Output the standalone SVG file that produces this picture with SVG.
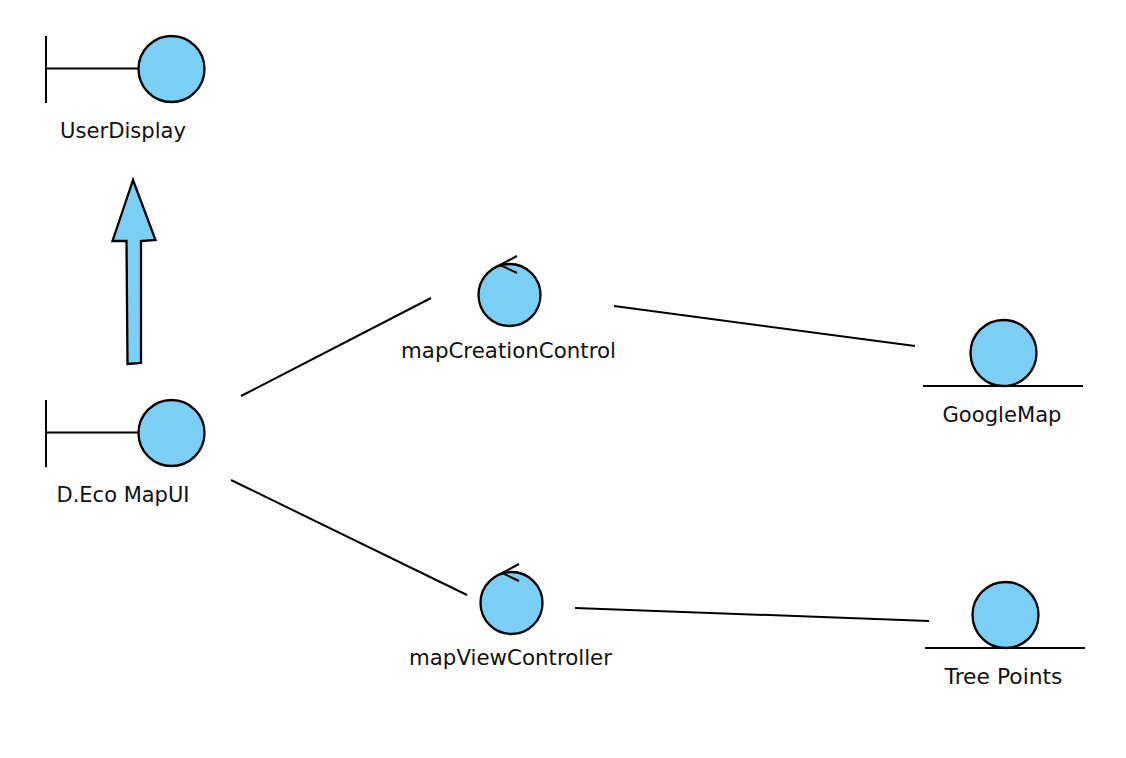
<svg xmlns="http://www.w3.org/2000/svg" width="1126" height="758" viewBox="0 0 1126 758">
<style>
.o{fill:#7bcff5;stroke:#000;stroke-width:2.300}
.l{fill:none;stroke:#000;stroke-width:2}
text{font-family:"DejaVu Sans","Noto Sans",sans-serif;font-size:21.500px;fill:#111;text-anchor:middle}
</style>
<rect width="1126" height="758" fill="#fff"/>
<g id="connectors">
<path class="l" d="M241 396L431 298"/>
<path class="l" d="M231 480L467 595"/>
<path class="l" d="M614 306L915 346"/>
<path class="l" d="M575 608L929 621"/>
<path class="o" d="M133 180L112.500 241L126.500 241L127.500 364L141 363L141 241L155.500 240Z"/>
</g>
<g id="UserDisplay">
<path class="l" d="M46 36V103M46 68.500H138"/>
<circle class="o" cx="171.500" cy="69" r="33"/>
<text x="123" y="138" textLength="126" lengthAdjust="spacingAndGlyphs">UserDisplay</text>
</g>
<g id="DEcoMapUI">
<path class="l" d="M46 400V467M46 432.500H138"/>
<circle class="o" cx="171.500" cy="433" r="33"/>
<text x="123" y="502" textLength="133" lengthAdjust="spacingAndGlyphs">D.Eco MapUI</text>
</g>
<g id="mapCreationControl">
<circle class="o" cx="509.500" cy="295" r="31"/>
<path class="l" d="M517 256L500 265L517 273"/>
<text x="508.500" y="358" textLength="215" lengthAdjust="spacingAndGlyphs">mapCreationControl</text>
</g>
<g id="mapViewController">
<circle class="o" cx="511.500" cy="603" r="31"/>
<path class="l" d="M519 564L502 573L519 581"/>
<text x="510.500" y="665" textLength="203" lengthAdjust="spacingAndGlyphs">mapViewController</text>
</g>
<g id="GoogleMap">
<circle class="o" cx="1003.500" cy="353" r="33"/>
<path class="l" d="M923 386H1083"/>
<text x="1002" y="422" textLength="119" lengthAdjust="spacingAndGlyphs">GoogleMap</text>
</g>
<g id="TreePoints">
<circle class="o" cx="1005.500" cy="615" r="33"/>
<path class="l" d="M925 648H1085"/>
<text x="1003.500" y="684" textLength="118" lengthAdjust="spacingAndGlyphs">Tree Points</text>
</g>
</svg>
